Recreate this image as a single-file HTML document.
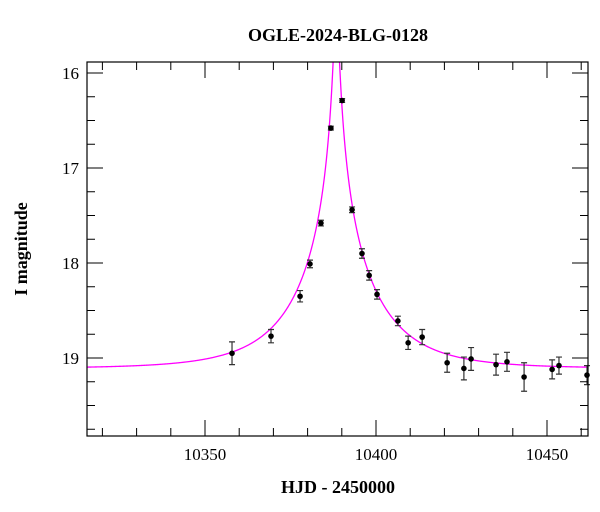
<!DOCTYPE html>
<html><head><meta charset="utf-8"><style>
body{margin:0;background:#fff}
svg{display:block;font-family:"Liberation Serif",serif}
</style></head><body>
<svg id="chart" width="600" height="512" viewBox="0 0 600 512">
<text x="338" y="41" text-anchor="middle" font-size="18" font-weight="bold">OGLE-2024-BLG-0128</text>
<text x="338" y="493" text-anchor="middle" font-size="18" font-weight="bold">HJD - 2450000</text>
<text transform="translate(27,249) rotate(-90)" text-anchor="middle" font-size="18" font-weight="bold">I magnitude</text>
<g id="plot"></g>
</svg>
<script>
const times=[10357.9,10369.3,10377.8,10380.7,10383.9,10386.8,10390.1,10393.0,10395.9,10398.0,10400.3,10406.4,10409.4,10413.5,10420.8,10425.7,10427.8,10435.1,10438.3,10443.3,10451.5,10453.5,10461.7];
const mags=[18.95,18.77,18.35,18.01,17.58,16.58,16.29,17.44,17.90,18.13,18.33,18.61,18.84,18.78,19.05,19.11,19.01,19.07,19.04,19.20,19.12,19.08,19.18];
const errs=[0.12,0.07,0.06,0.04,0.03,0.02,0.02,0.03,0.05,0.05,0.05,0.05,0.07,0.08,0.10,0.12,0.12,0.11,0.10,0.15,0.10,0.09,0.10];
const xTicks=[10350,10400,10450];
const yTicks=[16,17,18,19];
const model={t0:10388.4,u0:0.03,tE:22.5,base:19.11};
const L=87,R=588,T=62,B=436;
const X=t=>205+(t-10350)*3.42;
const Y=m=>73+(m-16)*95;
const ns="http://www.w3.org/2000/svg";
const g=document.getElementById('plot');
function mk(tag,at,name){const e=document.createElementNS(ns,tag);for(const k in at)e.setAttribute(k,at[k]);


g.appendChild(e);return e;}
// model curve
let d="";
for(let px=L;px<=R;px+=0.5){const t=10350+(px-205)/3.42;const u=Math.sqrt(model.u0**2+((t-model.t0)/model.tE)**2);
const A=(u*u+2)/(u*Math.sqrt(u*u+4));let m=model.base-2.5*Math.log10(A);let py=Y(m);if(py<T-50)py=T-50;d+=(d?"L":"M")+px.toFixed(1)+","+py.toFixed(2);}
const cp=document.createElementNS(ns,'clipPath');cp.setAttribute('id','cl');const cr=document.createElementNS(ns,'rect');
cr.setAttribute('x',L);cr.setAttribute('y',T);cr.setAttribute('width',R-L);cr.setAttribute('height',B-T);cp.appendChild(cr);g.appendChild(cp);
const c=mk('path',{d:d,fill:'none',stroke:'#ff00ff','stroke-width':1.3,'clip-path':'url(#cl)'},'model-curve');
// points
times.forEach((t,i)=>{const x=X(t),y=Y(mags[i]),e=errs[i]*95;
mk('path',{d:`M${x},${y-e}V${y+e}M${x-3},${y-e}H${x+3}M${x-3},${y+e}H${x+3}`,stroke:'#333','stroke-width':1.2,fill:'none'},'error-bar');
mk('circle',{cx:x,cy:y,r:2.8,fill:'#000'},'data-point');});
// frame
mk('rect',{x:L,y:T,width:R-L,height:B-T,fill:'none',stroke:'#000','stroke-width':1.2},'plot-frame');
let tk="";
for(let t=10320;t<=10460;t+=10){const x=X(t);if(x<L||x>R)continue;const len=t%50===0?16:8;tk+=`M${x},${B}v${-len}M${x},${T}v${len}`;}
for(let m=15.75;m<=19.75;m+=0.25){const y=Y(m);if(y<T||y>B)continue;const len=Math.abs(m-Math.round(m))<1e-6?16:8;tk+=`M${L},${y}h${len}M${R},${y}h${-len}`;}
mk('path',{d:tk,stroke:'#000','stroke-width':1,fill:'none'},'axis-ticks');
xTicks.forEach(t=>{const e=mk('text',{x:X(t),y:460,'text-anchor':'middle','font-size':17},'x-tick-label');e.textContent=t;});
yTicks.forEach(m=>{const e=mk('text',{x:79,y:Y(m)+6,'text-anchor':'end','font-size':17},'y-tick-label');e.textContent=m;});
</script>
</body></html>
